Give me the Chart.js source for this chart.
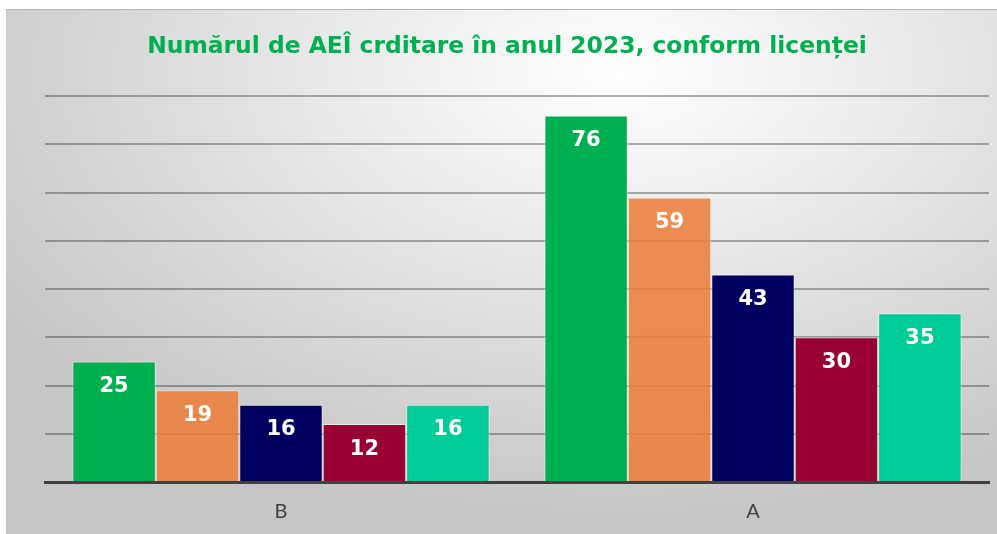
<!DOCTYPE html>
<html>
<head>
<meta charset="utf-8">
<script src="https://cdn.jsdelivr.net/npm/chart.js@4.4.1/dist/chart.umd.min.js"></script>
<style>
  html, body { margin: 0; padding: 0; background: #fff; }
  #wrap { position: relative; width: 997px; height: 534px; overflow: hidden; }
  #panel {
    position: absolute; left: 6px; top: 9px; width: 991px; height: 525px;
    border-top: 1px solid #b5b5b5;
    background: radial-gradient(ellipse 75% 85% at 62% 12%, #ffffff 0%, #e9e9e9 40%, #d4d4d4 75%, #c6c6c6 100%);
  }
  canvas { position: absolute; left: 0; top: 0; }
</style>
</head>
<body>
<div id="wrap">
  <div id="panel"></div>
  <canvas id="chart" width="997" height="534"></canvas>
</div>
<script>
// Date grafic
const categories = ['B', 'A'];
const seriesNames = ['S1', 'S2', 'S3', 'S4', 'S5'];
const serie1 = [25, 76];
const serie2 = [19, 59];
const serie3 = [16, 43];
const serie4 = [12, 30];
const serie5 = [16, 35];
const yTicks = [0, 10, 20, 30, 40, 50, 60, 70, 80];
const colors = ['#00b050', 'rgba(236,125,55,0.86)', '#000060', '#990033', '#00cc99'];

// etichete valori in interiorul barelor
const valueLabels = {
    id: 'valueLabels',
    afterDatasetsDraw(chart) {
        const ctx = chart.ctx;
        ctx.save();
        ctx.fillStyle = '#ffffff';
        ctx.font = 'bold 21px "DejaVu Sans", sans-serif';
        ctx.textAlign = 'center';
        ctx.textBaseline = 'middle';
        chart.data.datasets.forEach((ds, i) => {
            chart.getDatasetMeta(i).data.forEach((bar, j) => {
                ctx.fillText(String(ds.data[j]), bar.x, bar.y + 25);
            });
        });
        ctx.restore();
    }
};

const allSeries = [serie1, serie2, serie3, serie4, serie5];

new Chart(document.getElementById('chart'), {
    type: 'bar',
    data: {
        labels: categories,
        datasets: allSeries.map((d, i) => ({
            label: seriesNames[i],
            data: d,
            backgroundColor: colors[i],
            borderColor: 'rgba(255,255,255,0.55)',
            borderWidth: 1,
            categoryPercentage: 0.884,
            barPercentage: 1
        }))
    },
    options: {
        responsive: false,
        animation: false,
        layout: { padding: { left: 25, right: 8, top: 0, bottom: 0 } },
        plugins: {
            legend: { display: false },
            tooltip: { enabled: false },
            title: {
                display: true,
                text: 'Numărul de AEÎ crditare în anul 2023, conform licenței',
                color: '#00b050',
                font: { family: '"DejaVu Sans", sans-serif', size: 23.4, weight: 'bold', lineHeight: 1.2 },
                padding: { top: 33, bottom: 35 }
            }
        },
        scales: {
            x: {
                grid: { display: false },
                border: { display: true, color: '#404040', width: 3 },
                ticks: { color: '#404040', font: { family: 'Lato, sans-serif', size: 20 }, padding: 10 },
                afterFit: a => { a.height = 52; }
            },
            y: {
                min: 0, max: 80,
                afterBuildTicks: a => { a.ticks = yTicks.map(v => ({ value: v })); },
                grid: { color: 'rgba(0,0,0,0.3)', lineWidth: 2, drawTicks: false },
                border: { display: false },
                ticks: { display: false },
                afterFit: a => { a.width = 20; }
            }
        }
    },
    plugins: [valueLabels]
});
</script>
</body>
</html>
